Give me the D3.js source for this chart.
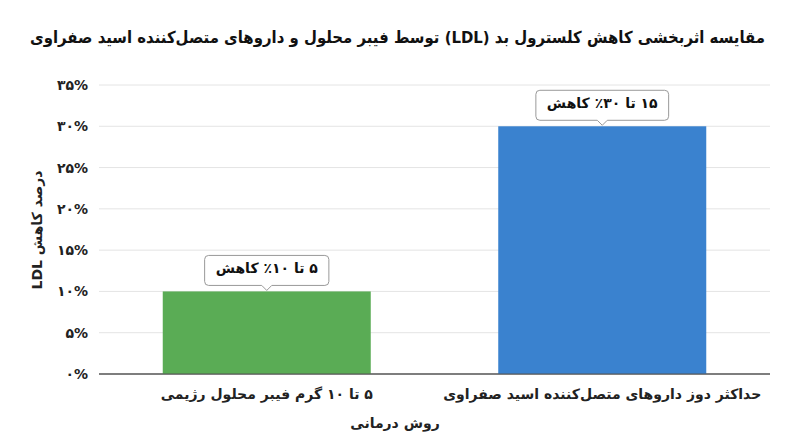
<!DOCTYPE html>
<html><head><meta charset="utf-8">
<script src="https://cdn.jsdelivr.net/npm/d3@7"></script>
<style>body{margin:0;background:#fff}svg{font-family:"DejaVu Sans",sans-serif}</style>
</head><body><svg id="c" width="800" height="447"></svg>
<script>
const categories = ["۵ تا ۱۰ گرم فیبر محلول رژیمی", "حداکثر دوز داروهای متصل‌کننده اسید صفراوی"];
const values = [10, 30];
const labels = ["۵ تا ۱۰٪ کاهش", "۱۵ تا ۳۰٪ کاهش"];
const colors = ["#5aac55", "#3a82cf"];
const yTicks = [0,5,10,15,20,25,30,35];
const yTickLabels = ["۰%","۵%","۱۰%","۱۵%","۲۰%","۲۵%","۳۰%","۳۵%"];
const title = "مقایسه اثربخشی کاهش کلسترول بد (LDL) توسط فیبر محلول و داروهای متصل‌کننده اسید صفراوی";

const svg = d3.select("#c");
const L=99,R=770,T=85,B=374;
const x = d3.scaleBand().domain(categories).range([L,R]).paddingInner(0.38).paddingOuter(0.19);
const y = d3.scaleLinear().domain([0,35]).range([B,T]);

const tt = svg.append("text").attr("x",765).attr("y",43).attr("text-anchor","start").attr("direction","rtl")
  .attr("font-size",16.5).attr("font-weight","bold").attr("fill","#111").text(title);
const tw = tt.node().getComputedTextLength();
if (tw > 735) tt.attr("textLength",735).attr("lengthAdjust","spacingAndGlyphs");

svg.append("g").selectAll("line").data(yTicks).join("line")
  .attr("x1",L).attr("x2",R).attr("y1",d=>y(d)).attr("y2",d=>y(d))
  .attr("stroke",d=>d===0?"#555":"#e4e4e4").attr("stroke-width",d=>d===0?1.2:1);
svg.append("g").selectAll("text").data(yTicks).join("text")
  .attr("x",88).attr("y",d=>y(d)+5).attr("text-anchor","end").attr("font-size",14).attr("font-weight","bold").attr("fill","#222")
  .text((d,i)=>yTickLabels[i]);

svg.append("g").selectAll("rect").data(values).join("rect")
  .attr("x",(d,i)=>x(categories[i])).attr("width",x.bandwidth())
  .attr("y",d=>y(d)).attr("height",d=>B-y(d)).attr("fill",(d,i)=>colors[i]);
svg.append("line").attr("x1",L).attr("x2",R).attr("y1",B).attr("y2",B).attr("stroke","#555").attr("stroke-width",1.2);

svg.append("g").selectAll("text").data(categories).join("text")
  .attr("x",d=>x(d)+x.bandwidth()/2).attr("y",399).attr("text-anchor","middle").attr("direction","rtl")
  .attr("font-size",14).attr("font-weight","bold").attr("fill","#222").text(d=>d);

svg.append("text").attr("x",395).attr("y",428).attr("text-anchor","middle").attr("direction","rtl")
  .attr("font-size",14).attr("font-weight","bold").attr("fill","#222").text("روش درمانی");
svg.append("text").attr("transform","translate(42,230) rotate(-90)").attr("text-anchor","middle").attr("direction","rtl")
  .attr("font-size",14).attr("font-weight","bold").attr("fill","#222").text("درصد کاهش LDL");

values.forEach((v,i)=>{
  const cx = x(categories[i])+x.bandwidth()/2;
  const g = svg.append("g");
  const t = g.append("text").attr("x",cx).attr("y",y(v)-18).attr("text-anchor","middle").attr("direction","rtl")
    .attr("font-size",14).attr("font-weight","bold").attr("fill","#111").text(labels[i]);
  const w = t.node().getComputedTextLength()+22, h=30, by=y(v)-6-h;
  const p = `M${cx-w/2+4},${by} H${cx+w/2-4} Q${cx+w/2},${by} ${cx+w/2},${by+4} V${by+h-4} Q${cx+w/2},${by+h} ${cx+w/2-4},${by+h} H${cx+5} L${cx},${by+h+5} L${cx-5},${by+h} H${cx-w/2+4} Q${cx-w/2},${by+h} ${cx-w/2},${by+h-4} V${by+4} Q${cx-w/2},${by} ${cx-w/2+4},${by} Z`;
  g.insert("path","text").attr("d",p).attr("fill","#fff").attr("stroke","#999").attr("stroke-width",1);
});
</script></body></html>
